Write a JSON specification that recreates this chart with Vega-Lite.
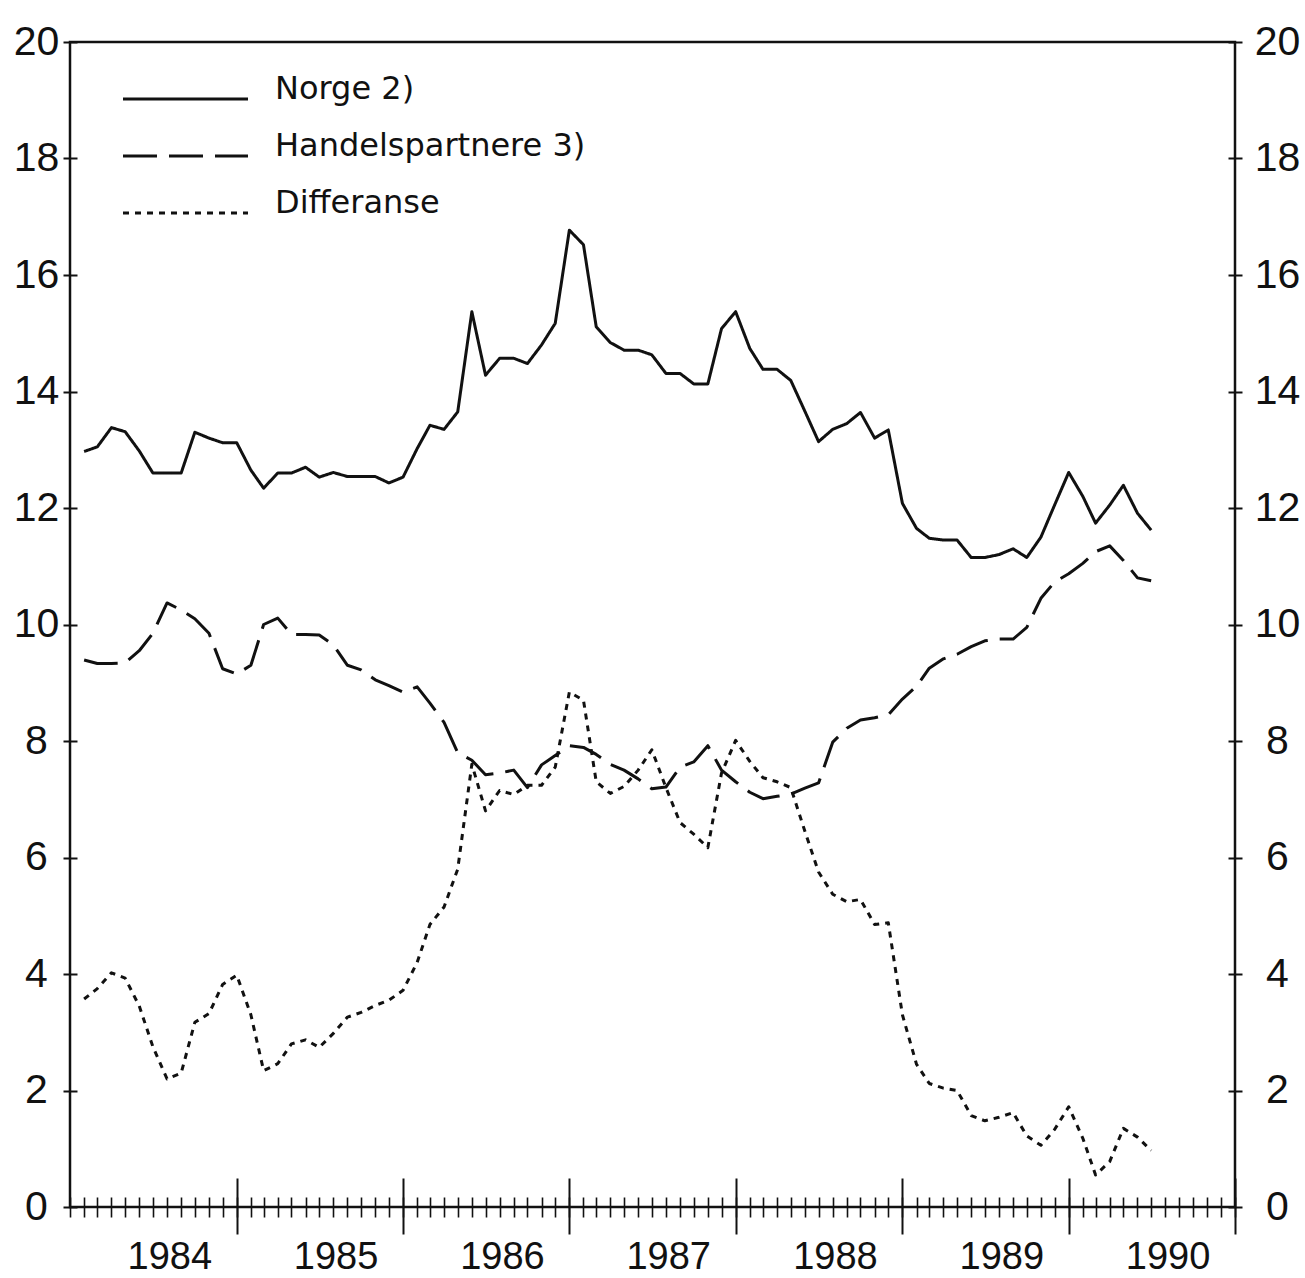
{
  "$schema": "https://vega.github.io/schema/vega-lite/v6.json",
  "width": 1165,
  "height": 1165,
  "autosize": {"type": "none"},
  "padding": {"left": 70, "top": 42, "right": 70, "bottom": 71},
  "background": "white",
  "config": {
    "view": {"stroke": "#111", "strokeWidth": 2.5},
    "axis": {
      "grid": false,
      "domain": false,
      "title": null,
      "tickColor": "#111",
      "labelColor": "#111",
      "labelFont": "Liberation Sans Narrow, Liberation Sans, sans-serif",
      "labelFontSize": 41,
      "labelFlush": false,
      "labelOverlap": false
    },
    "line": {"stroke": "#111", "strokeWidth": 3}
  },
  "data": {
    "values": [
      {"d": "1984/02/01", "N": 12.97, "H": 9.39, "D": 3.57},
      {"d": "1984/03/01", "N": 13.05, "H": 9.33, "D": 3.75},
      {"d": "1984/04/01", "N": 13.38, "H": 9.33, "D": 4.02},
      {"d": "1984/05/01", "N": 13.31, "H": 9.34, "D": 3.93},
      {"d": "1984/06/01", "N": 12.98, "H": 9.55, "D": 3.45},
      {"d": "1984/07/01", "N": 12.6, "H": 9.85, "D": 2.75},
      {"d": "1984/08/01", "N": 12.6, "H": 10.37, "D": 2.2},
      {"d": "1984/09/01", "N": 12.6, "H": 10.25, "D": 2.3},
      {"d": "1984/10/01", "N": 13.3, "H": 10.1, "D": 3.17},
      {"d": "1984/11/01", "N": 13.2, "H": 9.85, "D": 3.32},
      {"d": "1984/12/01", "N": 13.12, "H": 9.24, "D": 3.82},
      {"d": "1985/01/01", "N": 13.12, "H": 9.15, "D": 3.98},
      {"d": "1985/02/01", "N": 12.65, "H": 9.3, "D": 3.3},
      {"d": "1985/03/01", "N": 12.34, "H": 10.0, "D": 2.34},
      {"d": "1985/04/01", "N": 12.6, "H": 10.11, "D": 2.46},
      {"d": "1985/05/01", "N": 12.6, "H": 9.83, "D": 2.8},
      {"d": "1985/06/01", "N": 12.7, "H": 9.83, "D": 2.87},
      {"d": "1985/07/01", "N": 12.53, "H": 9.82, "D": 2.74},
      {"d": "1985/08/01", "N": 12.61, "H": 9.65, "D": 2.98},
      {"d": "1985/09/01", "N": 12.54, "H": 9.3, "D": 3.26},
      {"d": "1985/10/01", "N": 12.54, "H": 9.22, "D": 3.34},
      {"d": "1985/11/01", "N": 12.54, "H": 9.05, "D": 3.46},
      {"d": "1985/12/01", "N": 12.43, "H": 8.95, "D": 3.55},
      {"d": "1986/01/01", "N": 12.53, "H": 8.84, "D": 3.72},
      {"d": "1986/02/01", "N": 13.02, "H": 8.93, "D": 4.2},
      {"d": "1986/03/01", "N": 13.42, "H": 8.65, "D": 4.85},
      {"d": "1986/04/01", "N": 13.35, "H": 8.32, "D": 5.15},
      {"d": "1986/05/01", "N": 13.65, "H": 7.8, "D": 5.8},
      {"d": "1986/06/01", "N": 15.37, "H": 7.67, "D": 7.6},
      {"d": "1986/07/01", "N": 14.28, "H": 7.42, "D": 6.8},
      {"d": "1986/08/01", "N": 14.57, "H": 7.45, "D": 7.15},
      {"d": "1986/09/01", "N": 14.57, "H": 7.5, "D": 7.08},
      {"d": "1986/10/01", "N": 14.48, "H": 7.2, "D": 7.24},
      {"d": "1986/11/01", "N": 14.8, "H": 7.59, "D": 7.24},
      {"d": "1986/12/01", "N": 15.17, "H": 7.75, "D": 7.55},
      {"d": "1987/01/01", "N": 16.77, "H": 7.92, "D": 8.84},
      {"d": "1987/02/01", "N": 16.52, "H": 7.89, "D": 8.7},
      {"d": "1987/03/01", "N": 15.11, "H": 7.77, "D": 7.3},
      {"d": "1987/04/01", "N": 14.84, "H": 7.6, "D": 7.1},
      {"d": "1987/05/01", "N": 14.71, "H": 7.5, "D": 7.22},
      {"d": "1987/06/01", "N": 14.71, "H": 7.35, "D": 7.5},
      {"d": "1987/07/01", "N": 14.63, "H": 7.18, "D": 7.85},
      {"d": "1987/08/01", "N": 14.31, "H": 7.21, "D": 7.2},
      {"d": "1987/09/01", "N": 14.31, "H": 7.55, "D": 6.6},
      {"d": "1987/10/01", "N": 14.13, "H": 7.64, "D": 6.4},
      {"d": "1987/11/01", "N": 14.13, "H": 7.92, "D": 6.17},
      {"d": "1987/12/01", "N": 15.08, "H": 7.5, "D": 7.45},
      {"d": "1988/01/01", "N": 15.37, "H": 7.3, "D": 8.01},
      {"d": "1988/02/01", "N": 14.74, "H": 7.12, "D": 7.65},
      {"d": "1988/03/01", "N": 14.38, "H": 7.01, "D": 7.37},
      {"d": "1988/04/01", "N": 14.38, "H": 7.05, "D": 7.3},
      {"d": "1988/05/01", "N": 14.19, "H": 7.09, "D": 7.2},
      {"d": "1988/06/01", "N": 13.66, "H": 7.19, "D": 6.45},
      {"d": "1988/07/01", "N": 13.14, "H": 7.28, "D": 5.75},
      {"d": "1988/08/01", "N": 13.35, "H": 7.98, "D": 5.37},
      {"d": "1988/09/01", "N": 13.45, "H": 8.22, "D": 5.24},
      {"d": "1988/10/01", "N": 13.64, "H": 8.36, "D": 5.28},
      {"d": "1988/11/01", "N": 13.2, "H": 8.4, "D": 4.85},
      {"d": "1988/12/01", "N": 13.34, "H": 8.45, "D": 4.88},
      {"d": "1989/01/01", "N": 12.08, "H": 8.72, "D": 3.3},
      {"d": "1989/02/01", "N": 11.65, "H": 8.94, "D": 2.45},
      {"d": "1989/03/01", "N": 11.48, "H": 9.25, "D": 2.12},
      {"d": "1989/04/01", "N": 11.45, "H": 9.41, "D": 2.04},
      {"d": "1989/05/01", "N": 11.45, "H": 9.49, "D": 2.0},
      {"d": "1989/06/01", "N": 11.15, "H": 9.62, "D": 1.57},
      {"d": "1989/07/01", "N": 11.15, "H": 9.72, "D": 1.48},
      {"d": "1989/08/01", "N": 11.2, "H": 9.75, "D": 1.54},
      {"d": "1989/09/01", "N": 11.3, "H": 9.75, "D": 1.62},
      {"d": "1989/10/01", "N": 11.15, "H": 9.95, "D": 1.22},
      {"d": "1989/11/01", "N": 11.5, "H": 10.45, "D": 1.06},
      {"d": "1989/12/01", "N": 12.05, "H": 10.73, "D": 1.33},
      {"d": "1990/01/01", "N": 12.61, "H": 10.87, "D": 1.72},
      {"d": "1990/02/01", "N": 12.2, "H": 11.05, "D": 1.18},
      {"d": "1990/03/01", "N": 11.74, "H": 11.25, "D": 0.55},
      {"d": "1990/04/01", "N": 12.05, "H": 11.35, "D": 0.78},
      {"d": "1990/05/01", "N": 12.39, "H": 11.1, "D": 1.35},
      {"d": "1990/06/01", "N": 11.91, "H": 10.8, "D": 1.2},
      {"d": "1990/07/01", "N": 11.62, "H": 10.75, "D": 0.97}
    ]
  },
  "layer": [
    {
      "mark": {"type": "line", "strokeWidth": 3, "strokeJoin": "round"},
      "encoding": {
        "x": {
          "field": "d", "type": "temporal",
          "scale": {"domain": [{"year": 1984, "month": 1, "date": 1}, {"year": 1991, "month": 1, "date": 1}]},
          "axis": {"orient": "bottom", "tickCount": {"interval": "month", "step": 1}, "labels": false, "tickSize": 20, "offset": -10, "tickWidth": 1.6}
        },
        "y": {
          "field": "N", "type": "quantitative",
          "scale": {"domain": [0, 20], "nice": false},
          "axis": {"orient": "left", "values": [0, 2, 4, 6, 8, 10, 12, 14, 16, 18, 20], "tickSize": 14, "offset": -7, "tickWidth": 2, "labelAlign": "center", "labelBaseline": "middle", "labelPadding": 27}
        },
        "strokeDash": {
          "datum": "Norge 2)", "type": "nominal",
          "scale": {"domain": ["Norge 2)", "Handelspartnere 3)", "Differanse"], "range": [[1, 0], [34, 12], [6, 6]]},
          "legend": {
            "orient": "none", "legendX": 51.5, "legendY": 28.5, "title": null, "padding": 0, "rowPadding": 0,
            "symbolType": "stroke", "symbolSize": 15625, "symbolStrokeWidth": 3, "symbolStrokeColor": "#111",
            "labelFont": "DejaVu Sans", "labelFontSize": 32, "labelColor": "#111", "labelLimit": 600,
            "labelOffset": 25.5, "labelBaseline": "alphabetic", "clipHeight": 57
          }
        }
      }
    },
    {
      "mark": {"type": "line", "strokeWidth": 3, "strokeJoin": "round"},
      "encoding": {
        "x": {
          "field": "d", "type": "temporal",
          "axis": {
            "orient": "bottom",
            "values": [
              {"year": 1985, "month": 1, "date": 1}, {"year": 1986, "month": 1, "date": 1},
              {"year": 1987, "month": 1, "date": 1}, {"year": 1988, "month": 1, "date": 1},
              {"year": 1989, "month": 1, "date": 1}, {"year": 1990, "month": 1, "date": 1},
              {"year": 1991, "month": 1, "date": 1}
            ],
            "labels": false, "tickSize": 56, "offset": -29, "tickWidth": 2
          }
        },
        "y": {
          "field": "H", "type": "quantitative",
          "axis": {"orient": "right", "values": [0, 2, 4, 6, 8, 10, 12, 14, 16, 18, 20], "tickSize": 14, "offset": -7, "tickWidth": 2, "labelAlign": "center", "labelBaseline": "middle", "labelPadding": 35}
        },
        "strokeDash": {"datum": "Handelspartnere 3)", "type": "nominal"}
      }
    },
    {
      "mark": {"type": "line", "strokeWidth": 3, "strokeJoin": "round"},
      "encoding": {
        "x": {
          "field": "d", "type": "temporal",
          "axis": {
            "orient": "bottom",
            "values": [
              {"year": 1984, "month": 8, "date": 6}, {"year": 1985, "month": 8, "date": 6},
              {"year": 1986, "month": 8, "date": 6}, {"year": 1987, "month": 8, "date": 6},
              {"year": 1988, "month": 8, "date": 6}, {"year": 1989, "month": 8, "date": 6},
              {"year": 1990, "month": 8, "date": 6}
            ],
            "format": "%Y", "ticks": false, "tickSize": 0, "labelAlign": "center", "labelBaseline": "alphabetic", "labelPadding": 61, "labelFontSize": 38
          }
        },
        "y": {"field": "D", "type": "quantitative", "axis": null},
        "strokeDash": {"datum": "Differanse", "type": "nominal"}
      }
    }
  ],
  "resolve": {"axis": {"x": "independent", "y": "independent"}}
}
